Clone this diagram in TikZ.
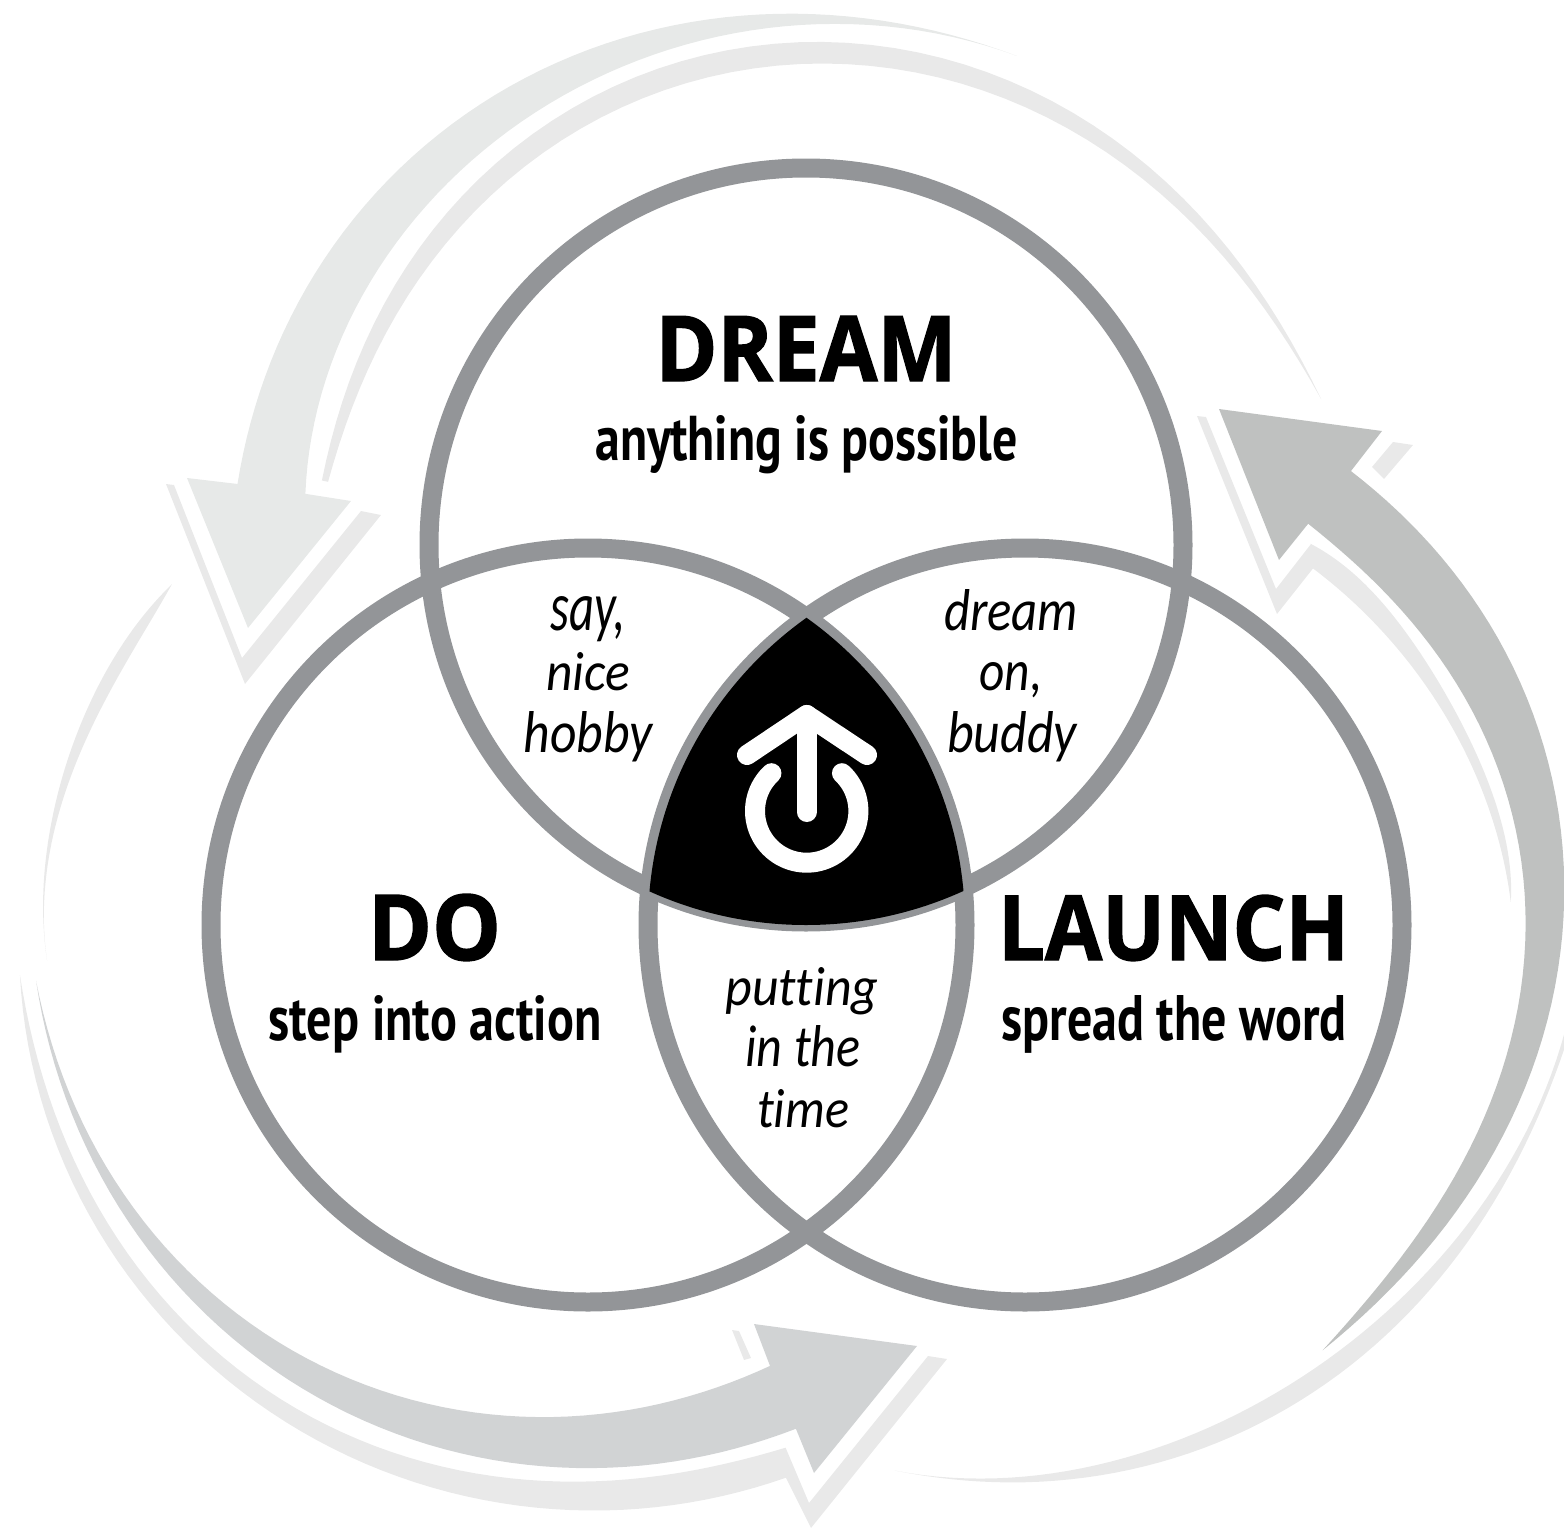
\documentclass[tikz,border=0pt]{standalone}
\usepackage{fontspec}
\usepackage{graphicx}
\setmainfont{Open Sans}
\newfontfamily\headf{Open Sans}[UprightFont=* Bold,FakeBold=1.6]
\newfontfamily\subf{PT Sans}[UprightFont=* Bold]
\newfontfamily\itf{Carlito}[UprightFont=* Italic,Ligatures=NoCommon]
\newcommand\hd[3]{\resizebox{#1pt}{#2pt}{\fontsize{90}{90}\headf #3}}
\newcommand\sbt[3]{\resizebox{#1pt}{#2pt}{\fontsize{60}{60}\subf #3}}
\newcommand\itx[3]{\resizebox{#1pt}{#2pt}{\fontsize{56}{56}\itf #3}}
\definecolor{ringc}{HTML}{939598}
\definecolor{aone}{HTML}{E7E9E8}
\definecolor{thinc}{HTML}{E9E9E9}
\definecolor{atwo}{HTML}{D1D3D4}
\definecolor{athree}{HTML}{BFC1C0}
\tikzset{
  ring/.style={draw=ringc,line width=19pt},
  lbl/.style={anchor=base,inner sep=0pt,outer sep=0pt,text=black},
  icon/.style={draw=white,line width=20pt,line cap=round,line join=round}
}
% radius through five equally spaced nodes, centre (806,760)
\newcommand\RR[5]{((\uu-1)*(\uu-2)*(\uu-3)*(\uu-4)/24*#1-\uu*(\uu-2)*(\uu-3)*(\uu-4)/6*#2+\uu*(\uu-1)*(\uu-3)*(\uu-4)/4*#3-\uu*(\uu-1)*(\uu-2)*(\uu-4)/6*#4+\uu*(\uu-1)*(\uu-2)*(\uu-3)/24*#5)}
\newcommand\spi[7]{plot[domain=0:4,samples=61,variable=\uu] ({806+\RR{#3}{#4}{#5}{#6}{#7}*cos(#1+(#2-#1)*\uu/4)},{760+\RR{#3}{#4}{#5}{#6}{#7}*sin(#1+(#2-#1)*\uu/4)})}
\newcommand\tspi[7]{-- plot[domain=0:4,samples=61,variable=\uu] ({806+\RR{#3}{#4}{#5}{#6}{#7}*cos(#1+(#2-#1)*\uu/4)},{760+\RR{#3}{#4}{#5}{#6}{#7}*sin(#1+(#2-#1)*\uu/4)})}
\begin{document}
\begin{tikzpicture}[x=1pt,y=-1pt]
\useasboundingbox (0,0) rectangle (1564,1531);
% arrow one (top left)
\fill[aone] \spi{205.9}{286.7}{632}{695}{736}{747}{735}
  \tspi{286.7}{208}{735}{733}{702}{647}{567}
  -- (351,501) -- (248,628) -- (187,478) -- cycle;
\fill[thinc] (166,484) -- (174,485) -- (242,658) -- (361,511) -- (381,515) -- (245,684) -- cycle;
\fill[thinc] \spi{210}{325}{559}{661}{717}{693}{629}
  \tspi{325}{210.2}{629}{678}{695}{641}{553} -- cycle;
% arrow two (bottom)
\fill[atwo] (754,1324) -- (917,1346) -- (814,1473) -- (796,1429)
  \tspi{90.9}{164}{669}{749}{803}{820}{801}
  \tspi{164}{93.4}{801}{808}{776}{704}{607} -- cycle;
\fill[thinc] (732,1330) -- (739,1331) -- (751,1358) -- (744,1360) -- cycle;
\fill[thinc] (928,1356) -- (947,1359) -- (811,1528)
  \tspi{91.6}{164.7}{718}{795}{842}{850}{815}
  \tspi{164.7}{91.7}{815}{838}{825}{767}{688}
  -- (809,1503) -- cycle;
\fill[thinc] \spi{195.5}{165.2}{658}{702}{737}{766}{785}
  \tspi{165.2}{195.5}{785}{763}{727}{688}{658} -- cycle;
% arrow three (right)
\fill[athree] (1219,409) -- (1382,431) -- (1351,471)
  \tspi{332.1}{408.8}{617}{708}{771}{792}{784.5}
  \tspi{408.8}{334.8}{784.5}{769}{735}{655}{555}
  -- (1279,560) -- cycle;
\fill[thinc] (1197,416) -- (1206,417) -- (1276,589) -- (1311,544)
  \tspi{336.8}{371.4}{549}{601}{643}{687}{719}
  \tspi{371.4}{339.3}{719}{681}{637}{590}{542}
  -- (1277,614) -- cycle;
\fill[thinc] (1393,442) -- (1413,445) -- (1384,479) -- (1372,467) -- cycle;
\fill[thinc] \spi{377.4}{442.9}{803}{809}{793}{765}{716}
  \tspi{442.9}{377.4}{716}{777}{812}{818}{810} -- cycle;
% rings
\draw[ring] (806,545) circle[radius=377];
\draw[ring] (588,925) circle[radius=377];
\draw[ring] (1025,925) circle[radius=377];
% centre
\begin{scope}
\clip (806,545) circle[radius=380];
\clip (588,925) circle[radius=377];
\clip (1025,925) circle[radius=377];
\fill[black] (600,600) rectangle (1000,950);
\end{scope}
\draw[icon] (747,755) -- (806.7,715) -- (867,755);
\draw[icon] (806.7,715) -- (806.7,812);
\draw[icon] plot[domain=-47:227,samples=70] ({806.7+51.7*cos(\x)},{811+51.7*sin(\x)});
% labels
\node[lbl] (dream) at (806,381) {\hd{301}{65}{DREAM}};
\node[lbl] (dreams) at (806.5,460) {\sbt{422}{45}{anything is possible}};
\node[lbl] (do) at (434.5,960) {\hd{133}{66}{DO}};
\node[lbl] (dos) at (435,1040) {\sbt{333}{45}{step into action}};
\node[lbl] (launch) at (1173.5,960) {\hd{351}{65}{LAUNCH}};
\node[lbl] (launchs) at (1174,1040) {\sbt{345}{45}{spread the word}};
\node[lbl] (a1) at (588,630) {\itx{75}{34}{say,}};
\node[lbl] (a2) at (588,690) {\itx{84}{38}{nice}};
\node[lbl] (a3) at (588,752) {\itx{129}{41}{hobby}};
\node[lbl] (b1) at (1011,630) {\itx{134}{41}{dream}};
\node[lbl] (b2) at (1011,690) {\itx{63}{28}{on,}};
\node[lbl] (b3) at (1012,752) {\itx{130}{41}{buddy}};
\node[lbl] (c1) at (802,1005) {\itx{153}{38}{putting}};
\node[lbl] (c2) at (803,1066) {\itx{115}{41}{in the}};
\node[lbl] (c3) at (803,1127) {\itx{92}{38}{time}};
\end{tikzpicture}
\end{document}
